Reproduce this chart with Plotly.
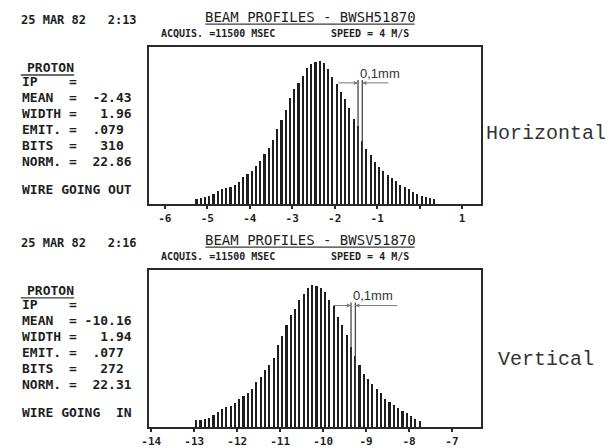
import plotly.graph_objects as go

W, H = 613, 448

# ---------------- data ----------------
h_pos = [-5.25, -5.15, -5.05, -4.95, -4.85, -4.75, -4.65, -4.55, -4.45, -4.35,
         -4.25, -4.15, -4.05, -3.95, -3.85, -3.75, -3.65, -3.55, -3.45, -3.35,
         -3.25, -3.15, -3.05, -2.95, -2.85, -2.75, -2.65, -2.55, -2.45, -2.35,
         -2.25, -2.15, -2.05, -1.95, -1.85, -1.75, -1.65, -1.55, -1.45, -1.35,
         -1.25, -1.15, -1.05, -0.95, -0.85, -0.75, -0.65, -0.55, -0.45, -0.35,
         -0.25, -0.15, -0.05, 0.05, 0.15, 0.25, 0.35]
h_counts = [5.3, 6, 7, 8.3, 10, 13.5, 14.7, 15.7, 16.8, 19,
            22.5, 27, 30.5, 33.5, 38, 43, 51, 57, 65, 76,
            85.5, 95, 107, 116, 123, 130, 137.5, 142, 144, 144.7,
            142.5, 136.5, 128.5, 122, 113, 106, 97, 86.5, 79, 63.5,
            56, 50, 42.5, 37, 33, 29, 26, 23, 19.5, 17,
            15.3, 12, 10.5, 8, 6.5, 5.5, 4.5]

v_pos = [-12.95, -12.85, -12.75, -12.65, -12.55, -12.45, -12.35, -12.25, -12.15, -12.05,
         -11.95, -11.85, -11.75, -11.65, -11.55, -11.45, -11.35, -11.25, -11.15, -11.05,
         -10.95, -10.85, -10.75, -10.65, -10.55, -10.45, -10.35, -10.25, -10.15, -10.05,
         -9.95, -9.85, -9.75, -9.65, -9.55, -9.45, -9.35, -9.25, -9.15, -9.05,
         -8.95, -8.85, -8.75, -8.65, -8.55, -8.45, -8.35, -8.25, -8.15, -8.05,
         -7.95, -7.85, -7.75]
v_counts = [6.7, 7, 8, 9, 11.5, 15, 18, 20, 21, 24,
            28, 30.5, 34, 38, 45, 50, 57, 62, 70, 83,
            92, 103, 113, 119, 128, 134, 140, 143.5, 142.5, 140,
            136, 128, 122, 111, 103, 93, 81, 72, 62, 53,
            48, 43, 38, 34, 28, 25, 21.5, 18.5, 16, 13.5,
            11, 8, 6]

h_tickvals = [-6, -5, -4, -3, -2, -1, 0, 1]
h_ticktext = ["-6", "-5", "-4", "-3", "-2", "-1", "", "1"]
v_tickvals = [-14, -13, -12, -11, -10, -9, -8, -7]
v_ticktext = ["-14", "-13", "-12", "-11", "-10", "-9", "-8", "-7"]

h_markers = [-1.45, -1.35]
v_markers = [-9.35, -9.25]
h_dim_tails = [-1.95, -0.70]
v_dim_tails = [-9.80, -8.24]
marker_top = 126
dim_level = 123
label_level = 133

h_stats = ["IP    =", "MEAN  =  -2.43", "WIDTH =   1.96", "EMIT. =  .079",
           "BITS  =   310", "NORM. =  22.86"]
v_stats = ["IP    =", "MEAN  = -10.16", "WIDTH =   1.94", "EMIT. =  .077",
           "BITS  =   272", "NORM. =  22.31"]

# ---------------- helpers ----------------
def px(x):
    return x / W

def py(y):
    return 1 - y / H

INK = "#1e1e1e"
MONO = "DejaVu Sans Mono"

fig = go.Figure()
fig.add_trace(go.Bar(x=h_pos, y=h_counts, width=0.05, marker=dict(color=INK, line=dict(width=0)),
                     xaxis="x", yaxis="y", showlegend=False))
fig.add_trace(go.Bar(x=v_pos, y=v_counts, width=0.05, marker=dict(color=INK, line=dict(width=0)),
                     xaxis="x2", yaxis="y2", showlegend=False))

axis_common = dict(showline=True, mirror=True, linecolor="#2a2a2a", linewidth=1.6,
                   showgrid=False, zeroline=False)

fig.update_layout(
    width=W, height=H, margin=dict(l=0, r=0, t=0, b=0),
    paper_bgcolor="white", plot_bgcolor="white",
    bargap=0,
    xaxis=dict(domain=[px(143), px(479)], range=[-6.37, 1.44], anchor="y",
               tickvals=h_tickvals, ticktext=h_ticktext, ticks="outside", ticklen=3,
               tickwidth=1.6, tickcolor="#2a2a2a",
               tickfont=dict(family=MONO, size=11, color=INK, weight="bold"), **axis_common),
    yaxis=dict(domain=[py(207), py(48)], range=[0, 159], anchor="x",
               showticklabels=False, ticks="", **axis_common),
    xaxis2=dict(domain=[px(143), px(479)], range=[-14.05, -6.33], anchor="y2",
                tickvals=v_tickvals, ticktext=v_ticktext, ticks="outside", ticklen=3,
                tickwidth=1.6, tickcolor="#2a2a2a",
                tickfont=dict(family=MONO, size=11, color=INK, weight="bold"), **axis_common),
    yaxis2=dict(domain=[py(432.7), py(274)], range=[0, 158.7], anchor="x2",
                showticklabels=False, ticks="", **axis_common),
)

annotations = []
shapes = []

def text(x, y, s, size=13, family=MONO, anchor="left", color=INK, bold=False):
    annotations.append(dict(x=px(x), y=py(y), xref="paper", yref="paper", text=s,
                            showarrow=False, xanchor=anchor, yanchor="middle",
                            font=dict(family=family, size=size, color=color,
                                      weight="bold" if bold else "normal")))

def hline(x0, x1, y, width=1.3, color="#3a3a3a"):
    shapes.append(dict(type="line", xref="paper", yref="paper", x0=px(x0), x1=px(x1),
                       y0=py(y), y1=py(y), line=dict(color=color, width=width)))

panels = [
    dict(top=48, date="25 MAR 82   2:13", name="BEAM PROFILES - BWSH51870",
         stats=h_stats, wire="WIRE GOING OUT", side="Horizontal", side_x=482, side_y=135,
         xa="x", ya="y", markers=h_markers, tails=h_dim_tails),
    dict(top=274, date="25 MAR 82   2:16", name="BEAM PROFILES - BWSV51870",
         stats=v_stats, wire="WIRE GOING  IN", side="Vertical", side_x=494, side_y=364,
         xa="x2", ya="y2", markers=v_markers, tails=v_dim_tails),
]

for p in panels:
    t = p["top"]
    text(11, t - 28, p["date"], size=12, bold=True)
    text(306.5, t - 31, p["name"], size=14, anchor="center")
    hline(200, 412, t - 23.5)
    text(153, t - 14.5, "ACQUIS. =11500 MSEC", size=10, bold=True)
    text(325, t - 14.5, "SPEED = 4 M/S", size=10, bold=True)
    text(17, t + 20, "PROTON", size=13, bold=True)
    hline(13, 67, t + 28)
    for i, s in enumerate(p["stats"]):
        text(12, t + 35 + i * 16.1, s, size=13, bold=True)
    text(12, t + 144, p["wire"], size=13, bold=True)
    text(p["side_x"], p["side_y"], p["side"], size=20, family="Liberation Mono", color="#333")

    # 0.1 mm marker
    for m in p["markers"]:
        shapes.append(dict(type="line", xref=p["xa"], yref=p["ya"], x0=m, x1=m, y0=0,
                           y1=marker_top, line=dict(color="#3a3a3a", width=1.2)))
    annotations.append(dict(x=p["markers"][0], y=dim_level, xref=p["xa"], yref=p["ya"],
                            ax=p["tails"][0], ay=dim_level, axref=p["xa"], ayref=p["ya"],
                            text="", showarrow=True, arrowhead=2, arrowsize=0.8,
                            arrowwidth=1, arrowcolor="#777"))
    annotations.append(dict(x=p["markers"][1], y=dim_level, xref=p["xa"], yref=p["ya"],
                            ax=p["tails"][1], ay=dim_level, axref=p["xa"], ayref=p["ya"],
                            text="", showarrow=True, arrowhead=2, arrowsize=0.8,
                            arrowwidth=1, arrowcolor="#777"))
    annotations.append(dict(x=p["markers"][0], y=label_level, xref=p["xa"], yref=p["ya"],
                            text="0,1mm", showarrow=False, xanchor="left", yanchor="middle",
                            font=dict(family="Liberation Sans", size=13, color="#333")))

fig.update_layout(annotations=annotations, shapes=shapes)
fig.write_html("out.html")
